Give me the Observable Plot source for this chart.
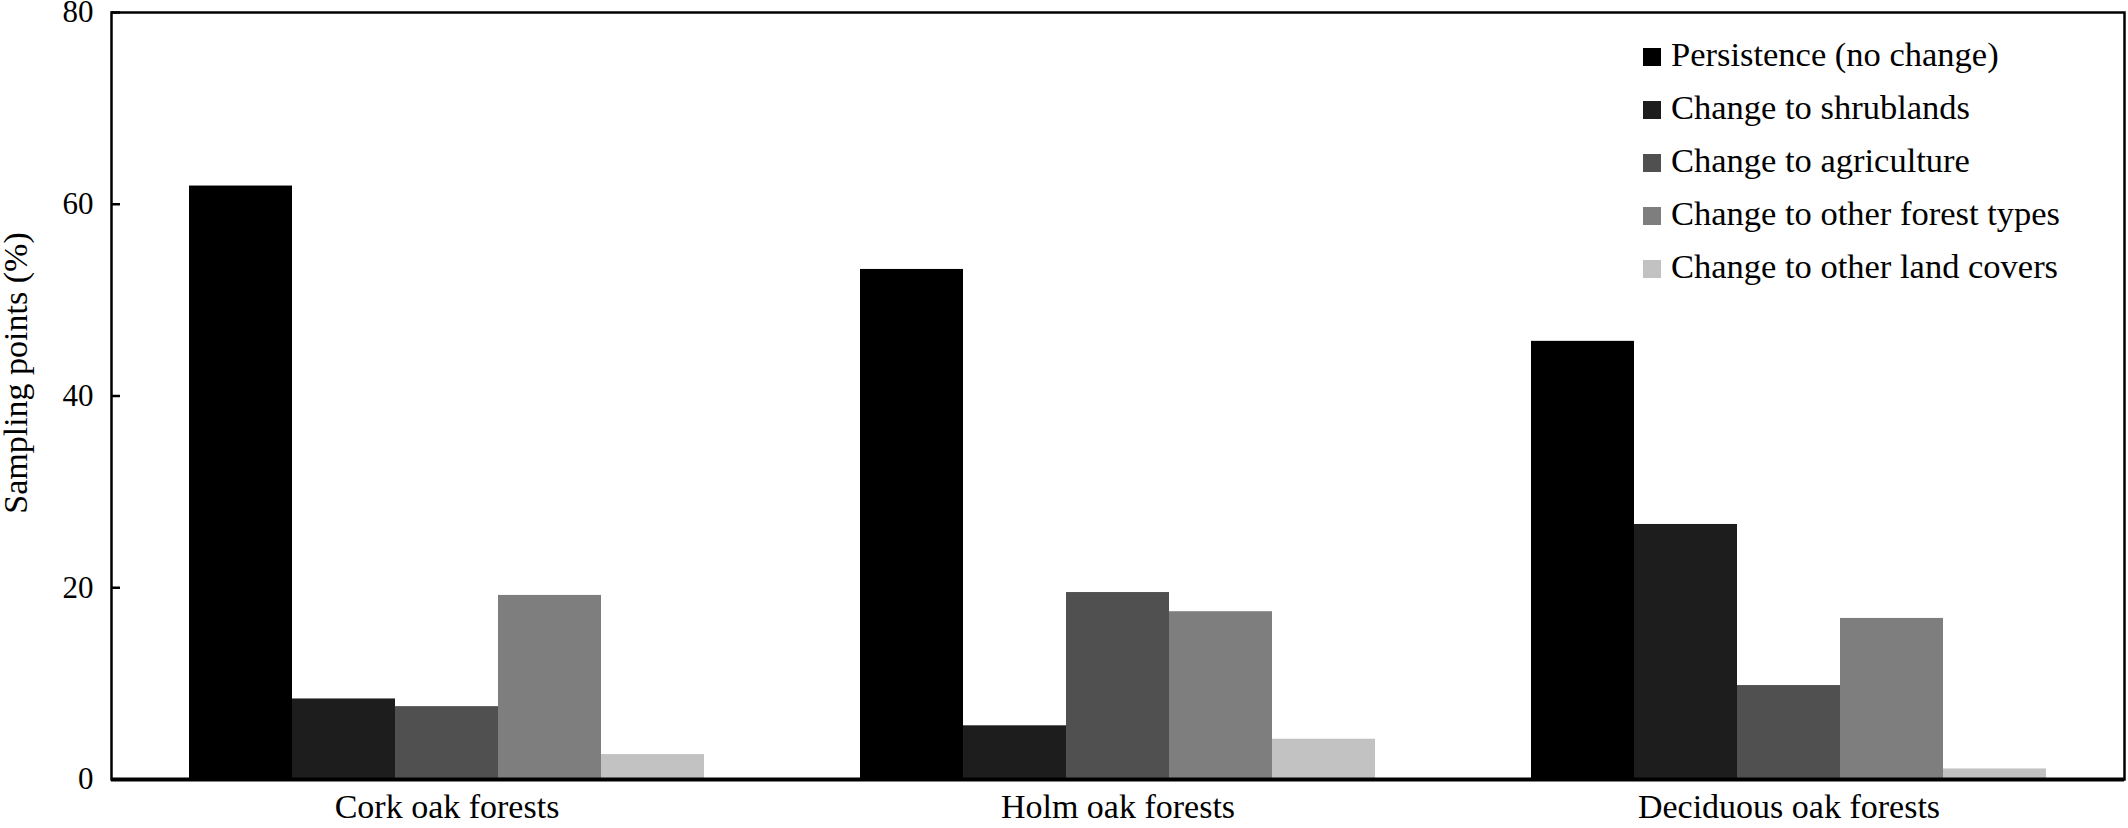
<!DOCTYPE html>
<html><head><meta charset="utf-8">
<script src="https://cdn.jsdelivr.net/npm/d3@7"></script>
<script src="https://cdn.jsdelivr.net/npm/@observablehq/plot@0.6"></script>
<style>
html,body{margin:0;padding:0;background:#fff;}
#wrap{position:relative;width:2128px;height:828px;font-family:"Liberation Serif","Times New Roman",serif;color:#000;}
#legend{position:absolute;left:1643px;top:30px;}
.row{display:flex;align-items:center;height:53px;font-size:34.5px;white-space:nowrap;}
.sw{width:18px;height:18px;margin-right:10px;flex:none;}
.lt{position:relative;top:-2px;}
</style></head><body><div id="wrap"><div id="legend"></div></div>
<script>
const groups = ["Cork oak forests", "Holm oak forests", "Deciduous oak forests"];
const series = ["Persistence (no change)", "Change to shrublands", "Change to agriculture", "Change to other forest types", "Change to other land covers"];
const colors = ["#000000", "#1d1d1d", "#505050", "#7e7e7e", "#c2c2c2"];
const persistence = [61.9, 53.2, 45.7];
const shrublands = [8.4, 5.6, 26.6];
const agriculture = [7.6, 19.5, 9.8];
const otherForest = [19.2, 17.5, 16.8];
const otherLand = [2.6, 4.2, 1.1];
const yTicks = [0, 20, 40, 60, 80];
const yLabel = "Sampling points (%)";

const seriesValues = [persistence, shrublands, agriculture, otherForest, otherLand];
const data = [];
groups.forEach((g, gi) => series.forEach((s, si) => data.push({group: g, series: s, value: seriesValues[si][gi]})));

const chart = Plot.plot({
  width: 2128, height: 828,
  marginLeft: 110, marginRight: 4, marginTop: 12, marginBottom: 49,
  style: {fontFamily: "'Liberation Serif','Times New Roman',serif", fontSize: "34px", color: "#000", background: "#fff", overflow: "visible"},
  fx: {domain: groups, padding: 0, label: null},
  x: {domain: series, paddingInner: 0, paddingOuter: 0.757, axis: null},
  y: {domain: [0, 80]},
  color: {domain: series, range: colors},
  marks: [
    Plot.barY(data, {fx: "group", x: "series", y: "value", fill: "series"}),
    Plot.ruleY([0], {strokeWidth: 4}),
    Plot.axisFx({anchor: "bottom", tickSize: 0, tickPadding: 14, fontSize: 34, label: null}),
    Plot.axisY(yTicks, {tickSize: -9, tickPadding: 27, fontSize: 31, label: null, strokeWidth: 2.5}),
    Plot.frame({facet: "super", strokeWidth: 2.5}),
    Plot.text([yLabel], {facet: "super", text: d => d, frameAnchor: "left", rotate: -90, dx: -95, dy: -23, fontSize: 34, textAnchor: "middle"})
  ]
});
document.getElementById("wrap").prepend(chart);
chart.style.display = "block";

const legend = document.getElementById("legend");
series.forEach((s, i) => {
  const row = document.createElement("div");
  row.className = "row";
  const sw = document.createElement("div");
  sw.className = "sw";
  sw.style.background = colors[i];
  const t = document.createElement("span");
  t.className = "lt";
  t.textContent = s;
  row.append(sw, t);
  legend.append(row);
});
</script></body></html>
